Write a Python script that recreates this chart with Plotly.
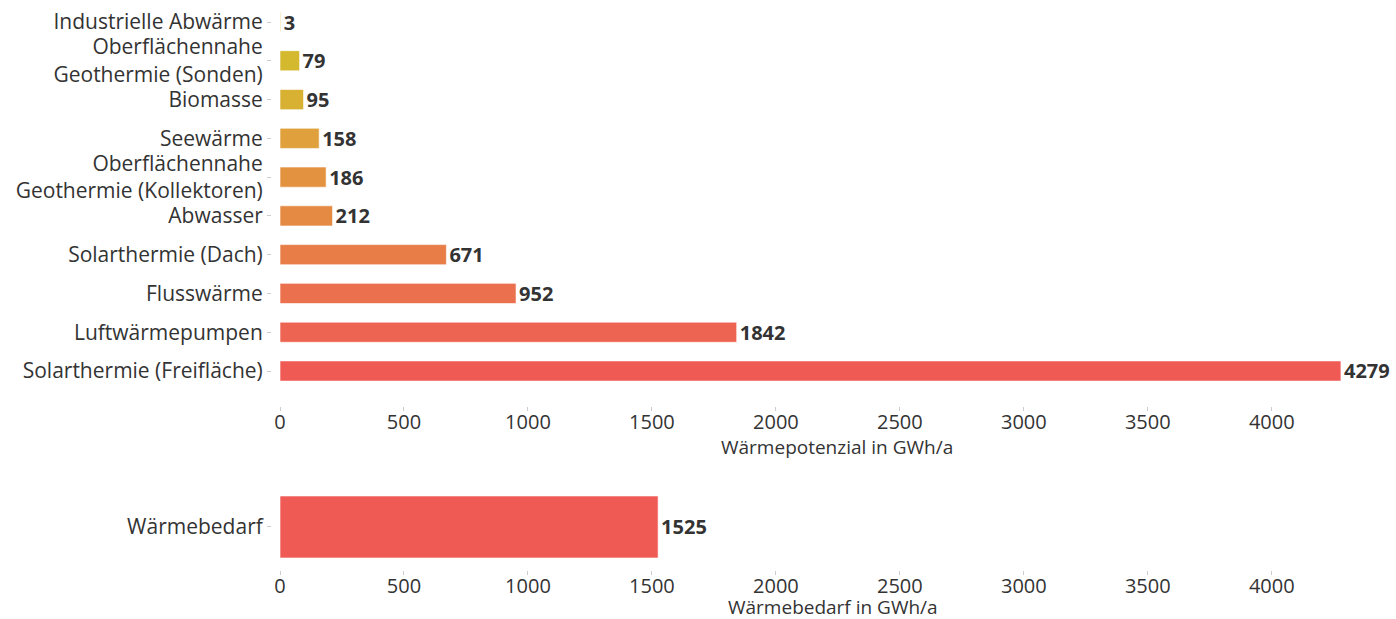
import plotly.graph_objects as go
from plotly.subplots import make_subplots

categories = [
    "Solarthermie (Freifläche)",
    "Luftwärmepumpen",
    "Flusswärme",
    "Solarthermie (Dach)",
    "Abwasser",
    "Oberflächennahe<br>Geothermie (Kollektoren)",
    "Seewärme",
    "Biomasse",
    "Oberflächennahe<br>Geothermie (Sonden)",
    "Industrielle Abwärme",
]
values = [4279, 1842, 952, 671, 212, 186, 158, 95, 79, 3]
colors = ["#F05A55", "#EE6452", "#EB704D", "#E87D48", "#E58A42",
          "#E3923F", "#E0A03C", "#D8B032", "#D4B82E", "#E3CC50"]

demand_category = ["Wärmebedarf"]
demand_values = [1525]
demand_colors = ["#F05A55"]

x_ticks = [0, 500, 1000, 1500, 2000, 2500, 3000, 3500, 4000]
title_top = "Wärmepotenzial in GWh/a"
title_bottom = "Wärmebedarf in GWh/a"

FONT = "Open Sans"
TXT = "#333333"

fig = make_subplots(rows=2, cols=1, vertical_spacing=0.05)

fig.add_trace(go.Bar(
    y=categories, x=values, orientation="h",
    marker=dict(color=colors, line=dict(color="rgba(255,255,255,0.6)", width=1)),
    width=0.52,
    text=[str(v) for v in values], textposition="outside",
    textfont=dict(family=FONT, size=20, color=TXT, weight="bold"),
    cliponaxis=False, constraintext="none", showlegend=False,
), row=1, col=1)

fig.add_trace(go.Bar(
    y=demand_category, x=demand_values, orientation="h",
    marker=dict(color=demand_colors, line=dict(color="rgba(255,255,255,0.6)", width=1)),
    width=0.62,
    text=[str(v) for v in demand_values], textposition="outside",
    textfont=dict(family=FONT, size=20, color=TXT, weight="bold"),
    cliponaxis=False, constraintext="none", showlegend=False,
), row=2, col=1)

xcommon = dict(
    range=[-32.3, 4493], tickvals=x_ticks,
    showgrid=False, zeroline=False, showline=False,
    ticks="outside", ticklen=4, tickcolor="#cccccc", tickwidth=1,
    ticklabelstandoff=-6,
    tickfont=dict(family=FONT, size=20, color=TXT),
)
fig.update_xaxes(**xcommon, row=1, col=1)
fig.update_xaxes(**xcommon, row=2, col=1)

ycommon = dict(
    showgrid=False, zeroline=False, showline=False,
    ticks="outside", ticklen=4, tickcolor="#cccccc", tickwidth=1,
    tickfont=dict(family=FONT, size=21, color=TXT),
)
fig.update_yaxes(**ycommon, row=1, col=1, range=[-0.9, 9.5],
                 domain=[0.2879, 0.9954])
fig.update_yaxes(**ycommon, row=2, col=1, range=[-0.43, 0.5],
                 domain=[0.0, 0.1632])

fig.add_annotation(text=title_top, xref="paper", yref="paper",
                   x=0.5036, y=0.2158, xanchor="center", yanchor="middle",
                   showarrow=False, font=dict(family=FONT, size=19, color=TXT))
fig.add_annotation(text=title_bottom, xref="paper", yref="paper",
                   x=0.5, y=-0.0649, xanchor="center", yanchor="middle",
                   showarrow=False, font=dict(family=FONT, size=19, color=TXT))

fig.update_layout(
    width=1396, height=619,
    margin=dict(l=272, r=2, t=0, b=49),
    paper_bgcolor="white", plot_bgcolor="white",
    font=dict(family=FONT, color=TXT),
)

fig.write_html("out.html", config={"displayModeBar": False},
               post_script="document.body.style.margin='0';document.body.style.overflow='hidden';")
